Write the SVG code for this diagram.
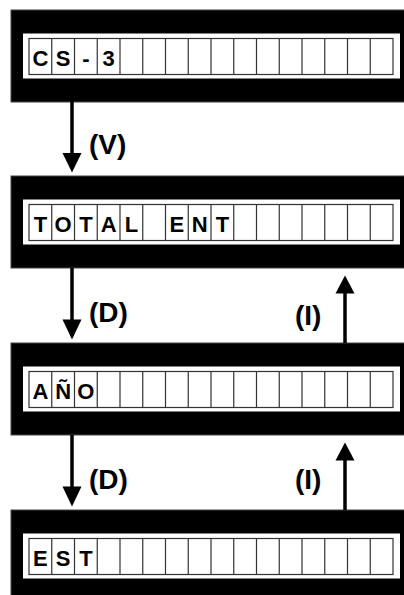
<svg xmlns="http://www.w3.org/2000/svg" xmlns:xlink="http://www.w3.org/1999/xlink" width="404" height="595" viewBox="0 0 404 595">
<style>
.panel{fill:#000;stroke:#444;stroke-width:1}
.strip{fill:#fff}
.cells{fill:#fff;stroke:#333;stroke-width:1.2}
.ch{font-family:"Liberation Sans",Arial,sans-serif;font-weight:bold;font-size:22px;fill:#000;text-anchor:middle}
.lbl{font-family:"Liberation Sans",Arial,sans-serif;font-weight:bold;font-size:28px;fill:#000}
.ln{stroke:#000;stroke-width:3.5;fill:none}
.hd{fill:#000}
</style>
<defs>
<g id="lcd">
<rect class="panel" x="11" y="0" width="400" height="92"/>
<rect class="strip" x="23" y="23.5" width="377" height="45"/>
<rect class="cells" x="29" y="28.5" width="364" height="36"/>
<path class="cells" d="M51.75 28.5V64.5M74.5 28.5V64.5M97.25 28.5V64.5M120 28.5V64.5M142.75 28.5V64.5M165.5 28.5V64.5M188.25 28.5V64.5M211 28.5V64.5M233.75 28.5V64.5M256.5 28.5V64.5M279.25 28.5V64.5M302 28.5V64.5M324.75 28.5V64.5M347.5 28.5V64.5M370.25 28.5V64.5"/>
</g>
</defs>
<g id="node-cs3">
<use xlink:href="#lcd" x="0" y="10"/>
<text class="ch" x="40.4" y="66">C</text>
<text class="ch" x="63.1" y="66">S</text>
<text class="ch" x="85.9" y="66">-</text>
<text class="ch" x="108.6" y="66">3</text>
</g>
<g id="node-total">
<use xlink:href="#lcd" x="0" y="176"/>
<text class="ch" x="40.4" y="232">T</text>
<text class="ch" x="63.1" y="232">O</text>
<text class="ch" x="85.9" y="232">T</text>
<text class="ch" x="108.6" y="232">A</text>
<text class="ch" x="131.4" y="232">L</text>
<text class="ch" x="176.9" y="232">E</text>
<text class="ch" x="199.6" y="232">N</text>
<text class="ch" x="222.4" y="232">T</text>
</g>
<g id="node-ano">
<use xlink:href="#lcd" x="0" y="343"/>
<text class="ch" x="40.4" y="399">A</text>
<text class="ch" x="63.1" y="399">Ñ</text>
<text class="ch" x="85.9" y="399">O</text>
</g>
<g id="node-est">
<use xlink:href="#lcd" x="0" y="510"/>
<text class="ch" x="40.4" y="566">E</text>
<text class="ch" x="63.1" y="566">S</text>
<text class="ch" x="85.9" y="566">T</text>
</g>
<g id="connectors">
<line class="ln" x1="72" y1="101" x2="72" y2="155"/>
<polygon class="hd" points="62.5,153 81.5,153 72,172.5"/>
<text class="lbl" x="89" y="154">(V)</text>
<line class="ln" x1="72" y1="268" x2="72" y2="321"/>
<polygon class="hd" points="62.5,319.5 81.5,319.5 72,339.5"/>
<text class="lbl" x="89" y="322">(D)</text>
<line class="ln" x1="72" y1="435" x2="72" y2="488"/>
<polygon class="hd" points="62.5,486.5 81.5,486.5 72,506.5"/>
<text class="lbl" x="89" y="489">(D)</text>
<line class="ln" x1="345" y1="343" x2="345" y2="292"/>
<polygon class="hd" points="335.5,293.5 354.5,293.5 345,275.5"/>
<text class="lbl" x="295" y="325">(I)</text>
<line class="ln" x1="345" y1="510" x2="345" y2="459"/>
<polygon class="hd" points="335.5,460.5 354.5,460.5 345,442.5"/>
<text class="lbl" x="295" y="489">(I)</text>
</g>
</svg>
